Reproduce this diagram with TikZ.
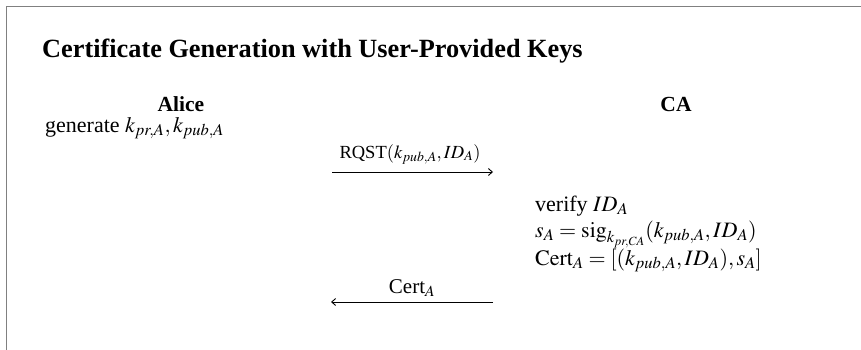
\documentclass[tikz,border=0pt]{standalone}
\usepackage{mathptmx}
\usepackage[no-math]{fontspec}
\setmainfont{Liberation Serif}
\usetikzlibrary{arrows.meta}
\DeclareMathSizes{22}{22}{16.5}{12.5}
\DeclareMathSizes{21}{21}{15.5}{12}
\DeclareMathSizes{18.5}{18.5}{13.8}{10.5}
\tikzset{
  bodytext/.style={inner sep=0pt, anchor=base west, font=\fontsize{22}{26}\selectfont},
  headtext/.style={inner sep=0pt, anchor=base, font=\fontsize{21.5}{26}\selectfont\bfseries},
  titletext/.style={inner sep=0pt, anchor=base west, font=\fontsize{26.3}{31}\selectfont\bfseries},
  msglabel/.style={inner sep=0pt, anchor=base, font=\fontsize{18.5}{22}\selectfont},
  certlabel/.style={inner sep=0pt, anchor=base, font=\fontsize{21}{25}\selectfont},
  msg/.style={line width=0.9pt, -{Straight Barb[length=4pt,width=7pt]}},
  frameline/.style={draw=gray, line width=1.6pt}
}
\begin{document}
\begin{tikzpicture}[x=1pt,y=-1pt]
\useasboundingbox (0,0) rectangle (861,350);
\draw[frameline] (6.5,351) -- (6.5,6.5) -- (862,6.5);
\node[titletext] (title) at (42,58) {Certificate Generation with User-Provided Keys};
\node[headtext] (alice) at (181,111) {Alice};
\node[headtext] (ca) at (676,111) {CA};
\node[bodytext] (gen) at (45,132) {generate $k_{pr,A}, k_{pub,A}$};
\coordinate (r1) at (332,172);
\coordinate (r2) at (493,172);
\draw[msg] (r1) -- (r2);
\node[msglabel] (rqst) at (410,158) {RQST$(k_{pub,A}, ID_A)$};
\node[bodytext] (ver) at (535,211) {verify $ID_A$};
\node[bodytext] (sig) at (535,237) {$s_A = \mathrm{sig}_{\smash{k_{pr,CA}}}(k_{pub,A}, ID_A)$};
\node[bodytext] (cert) at (535,265) {$\mathrm{Cert}_A = [(k_{pub,A}, ID_A), s_A]$};
\coordinate (c1) at (493,302);
\coordinate (c2) at (331,302);
\draw[msg] (c1) -- (c2);
\node[certlabel] (certl) at (412,293) {Cert$_A$};
\end{tikzpicture}
\end{document}
